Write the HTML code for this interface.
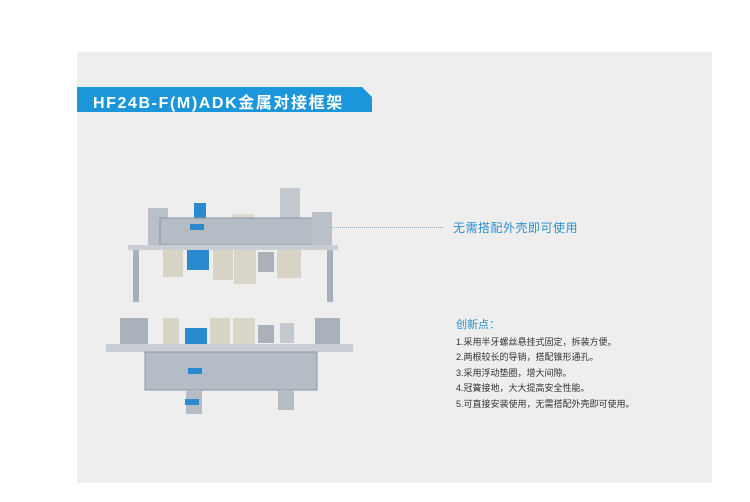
<!DOCTYPE html>
<html><head><meta charset="utf-8"><style>
body{margin:0;width:750px;height:502px;background:#fff;position:relative;overflow:hidden;font-family:"Liberation Sans","Noto Sans CJK SC",sans-serif}
.panel{position:absolute;left:77px;top:52px;width:635px;height:431px;background:#eeeeee}
.ban{position:absolute;left:77px;top:87px;width:295px;height:25px;background:#1c96da;clip-path:polygon(0 0,285px 0,295px 10px,295px 25px,0 25px)}
.ban span{position:absolute;left:16px;top:2px;color:#fff;font-size:16px;font-weight:bold;letter-spacing:1.6px}
.note{position:absolute;left:453px;top:219px;color:#2c8fd0;font-size:12px;letter-spacing:0.5px}
.dots{position:absolute;left:327px;top:227px;width:116px;border-top:1px dotted #9aaab8}
.list{position:absolute;left:456px;top:318px;font-size:9px;color:#333;line-height:15.5px}
.list b{color:#2c8fd0;font-size:11px;font-weight:normal;display:block;margin-bottom:1px}
</style></head><body>
<div class="panel"></div>
<div class="ban"><span>HF24B-F(M)ADK金属对接框架</span></div>
<div class="dots"></div>
<div class="note">无需搭配外壳即可使用</div>
<div class="list"><b>创新点：</b>1.采用半牙螺丝悬挂式固定，拆装方便。<br>2.两根较长的导销，搭配锥形通孔。<br>3.采用浮动垫圈，增大间隙。<br>4.冠簧接地，大大提高安全性能。<br>5.可直接安装使用，无需搭配外壳即可使用。</div>
<svg style="position:absolute;left:0;top:0" width="750" height="502">
<rect x="148" y="208" width="20" height="40" fill="#b9c0c8"/>
<rect x="194" y="203" width="12" height="16" fill="#2a8ad0"/>
<rect x="232" y="214" width="22" height="10" fill="#ddd9cc"/>
<rect x="280" y="188" width="20" height="30" fill="#c3c9cf"/>
<rect x="160" y="218" width="155" height="27" fill="#b4bcc5" stroke="#8b95a0"/>
<rect x="312" y="212" width="20" height="36" fill="#b9c0c8"/>
<rect x="190" y="224" width="14" height="6" fill="#2a8ad0"/>
<rect x="128" y="245" width="210" height="5" fill="#c8ced4"/>
<rect x="133" y="250" width="6" height="52" fill="#a7b0ba"/>
<rect x="327" y="250" width="6" height="52" fill="#a7b0ba"/>
<rect x="163" y="250" width="20" height="27" fill="#d7d4c6"/>
<rect x="187" y="250" width="22" height="20" fill="#2a8ad0"/>
<rect x="213" y="250" width="20" height="30" fill="#d7d4c6"/>
<rect x="234" y="250" width="22" height="34" fill="#d9d6c9"/>
<rect x="258" y="252" width="16" height="20" fill="#aab1b8"/>
<rect x="277" y="250" width="24" height="28" fill="#d7d4c6"/>
<rect x="120" y="318" width="28" height="26" fill="#a9b2bb"/>
<rect x="315" y="318" width="25" height="26" fill="#a9b2bb"/>
<rect x="163" y="318" width="16" height="26" fill="#d7d4c6"/>
<rect x="185" y="328" width="22" height="20" fill="#2a8ad0"/>
<rect x="210" y="318" width="20" height="28" fill="#d7d4c6"/>
<rect x="233" y="318" width="22" height="28" fill="#d9d6c9"/>
<rect x="258" y="325" width="16" height="18" fill="#aab1b8"/>
<rect x="280" y="323" width="14" height="20" fill="#c3c9cf"/>
<rect x="106" y="344" width="247" height="8" fill="#c8ced4"/>
<rect x="145" y="352" width="172" height="38" fill="#b4bcc5" stroke="#8b95a0"/>
<rect x="188" y="368" width="14" height="6" fill="#2a8ad0"/>
<rect x="186" y="390" width="16" height="24" fill="#b5bcc4"/>
<rect x="185" y="399" width="14" height="6" fill="#2a8ad0"/>
<rect x="278" y="390" width="16" height="20" fill="#b5bcc4"/>
</svg>
</body></html>
